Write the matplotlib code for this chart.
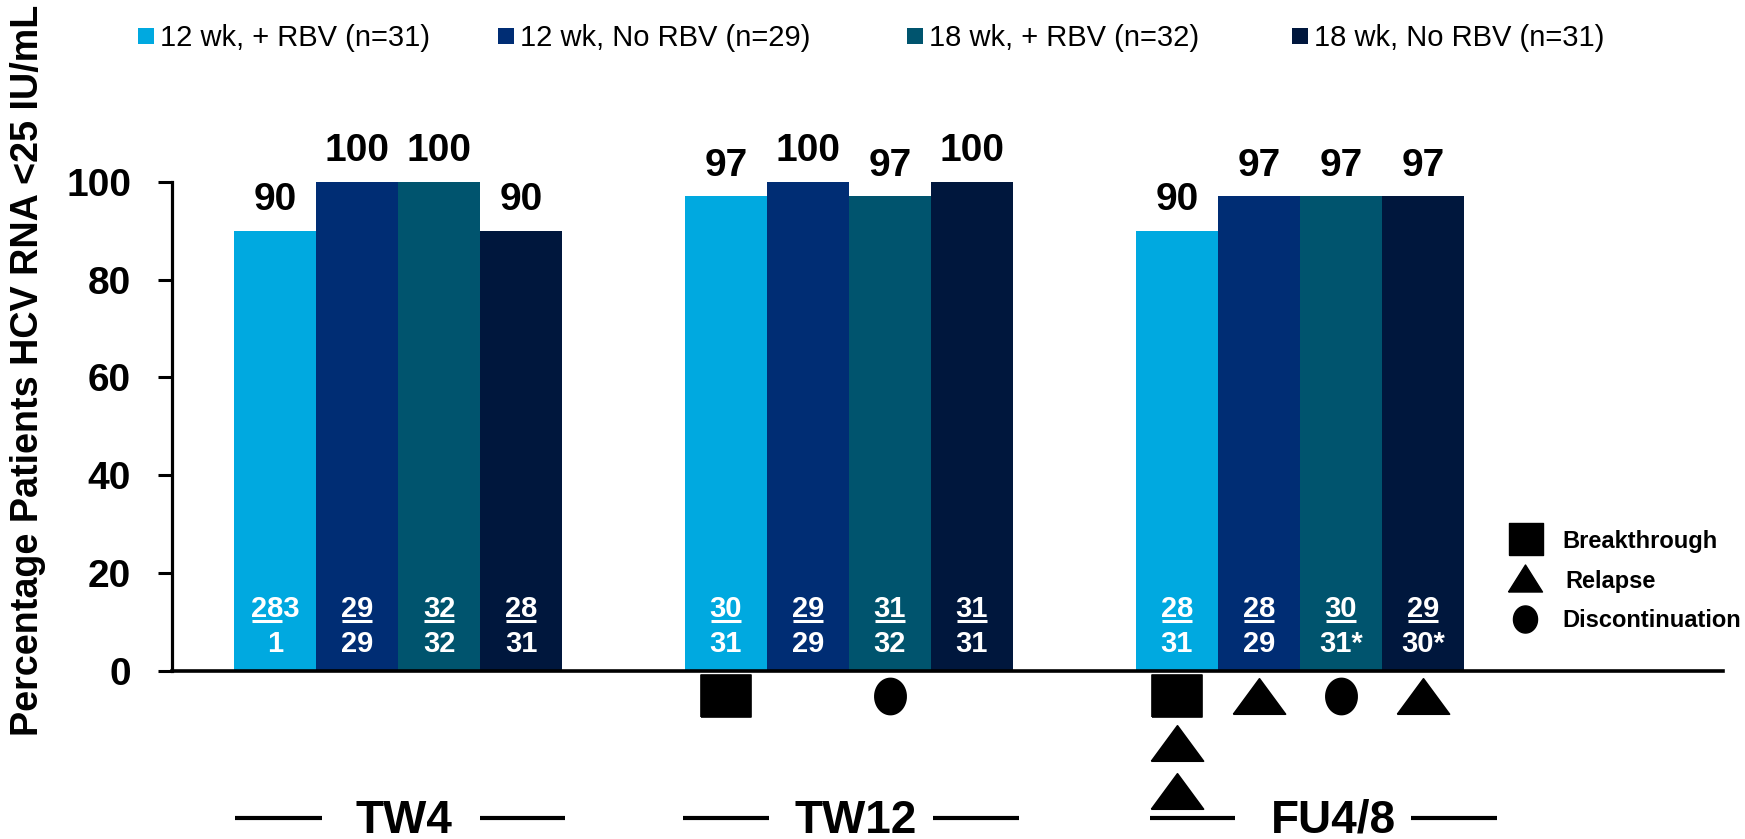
import matplotlib
matplotlib.use("Agg")
import matplotlib.pyplot as plt
from matplotlib.lines import Line2D
import numpy as np

plt.rcParams['font.family'] = ['Liberation Sans', 'DejaVu Sans']

# ---- data -----------------------------------------------------------------
series = ["12 wk, + RBV (n=31)", "12 wk, No RBV (n=29)",
          "18 wk, + RBV (n=32)", "18 wk, No RBV (n=31)"]
timepoints = ["TW4", "TW12", "FU4/8"]
pct = [[90, 100, 100, 90],
       [97, 100, 97, 100],
       [90, 97, 97, 97]]
responders = [["28", "29", "32", "28"],
              ["30", "29", "31", "31"],
              ["28", "28", "30", "29"]]
totals = [["1", "29", "32", "31"],
          ["31", "29", "32", "31"],
          ["31", "29", "31*", "30*"]]
# digit printed on the numerator line after the underlined count
carry_over = {(0, 0): "3"}
# virologic outcomes per (timepoint, arm), stacked downward below the axis
events = {(1, 0): ["B"], (1, 2): ["D"],
          (2, 0): ["B", "R", "R"], (2, 1): ["R"], (2, 2): ["D"], (2, 3): ["R"]}
event_names = [("B", "Breakthrough"), ("R", "Relapse"), ("D", "Discontinuation")]
yticks = [0, 20, 40, 60, 80, 100]
ylabel = "Percentage Patients HCV RNA <25 IU/mL"

# ---- style ----------------------------------------------------------------
colors = ["#00A9E0", "#002D74", "#00546E", "#00173D"]
W, H, DPI = 1745, 839, 100
GROUP_STEP = 5.5


def fx(px):
    return px / W


def fy(py):
    return 1 - py / H


def rect_verts(h):
    return [(-1, -h), (1, -h), (1, h), (-1, h), (-1, -h)]


def tri_verts(h):
    return [(-1, -h), (1, -h), (0, h), (-1, -h)]


def ell_verts(w):
    t = np.linspace(0, 2 * np.pi, 64)
    return list(zip(w * np.cos(t), np.sin(t)))


event_markers = {"B": (rect_verts(0.846), 36.5),
                 "R": (tri_verts(0.68), 37.5),
                 "D": (ell_verts(0.865), 26.0)}
legend_markers = {"B": (rect_verts(0.94), 24.5),
                  "R": (tri_verts(0.794), 24.5),
                  "D": (ell_verts(0.889), 19.5)}

fig = plt.figure(figsize=(W / DPI, H / DPI), dpi=DPI)
ax = fig.add_axes([fx(172), fy(671), fx(1723) - fx(172), fy(181.7) - fy(671)])
ax.set_xlim(-0.756, 18.16)
ax.set_ylim(0, 100)

# ---- bars -----------------------------------------------------------------
for g in range(len(timepoints)):
    for i in range(len(series)):
        x = g * GROUP_STEP + i + 0.5
        v = pct[g][i]
        ax.bar(x, v, width=1.0, color=colors[i], linewidth=0, zorder=2)
        ax.annotate(str(v), (x, v), xytext=(0, 15), textcoords="offset points",
                    ha="center", va="baseline", fontsize=28, fontweight="bold",
                    annotation_clip=False)

# ---- responder fractions inside the bars ----------------------------------
renderer = fig.canvas.get_renderer()
inv = ax.transData.inverted()
for g in range(len(timepoints)):
    for i in range(len(series)):
        x = g * GROUP_STEP + i + 0.5
        num = responders[g][i]
        tail = carry_over.get((g, i), "")
        t_num = ax.text(x, 11.03, num + tail, ha="center", va="baseline",
                        fontsize=21, fontweight="bold", color="white", zorder=4)
        ax.text(x, 3.88, totals[g][i], ha="center", va="baseline",
                fontsize=21, fontweight="bold", color="white", zorder=4)
        bb = t_num.get_window_extent(renderer=renderer)
        if tail:
            probe = ax.text(0, 0, num, fontsize=21, fontweight="bold")
            wnum = probe.get_window_extent(renderer=renderer).width
            probe.remove()
        else:
            wnum = bb.width
        x0 = inv.transform((bb.x0 + 1, 0))[0]
        x1 = inv.transform((bb.x0 + wnum - 1, 0))[0]
        ax.plot([x0, x1], [10.3, 10.3], color="white", lw=2.2,
                solid_capstyle="butt", zorder=4)

# ---- outcome markers below the axis ---------------------------------------
for (g, i), evs in events.items():
    x = g * GROUP_STEP + i + 0.5
    for k, e in enumerate(evs):
        verts, ms = event_markers[e]
        ax.plot([x], [-5.1 - 9.7 * k], linestyle="none", marker=verts,
                markersize=ms, color="black", mec="black", mew=1.2,
                clip_on=False, zorder=5)

# ---- timepoint labels with flanking rules ---------------------------------
label_layout = [  # (left rule, text centre, right rule) in bar units from group start
    ((0.01, 1.07), 2.07, (3.00, 4.04)),
    ((-0.02, 1.02), 2.08, (3.02, 4.07)),
    ((0.17, 1.21), 2.41, (3.35, 4.40)),
]
for g, name in enumerate(timepoints):
    gx = g * GROUP_STEP
    (la, lb), tc, (ra, rb) = label_layout[g]
    ax.plot([gx + la, gx + lb], [-30.0, -30.0], color="black", lw=3,
            solid_capstyle="butt", clip_on=False)
    ax.plot([gx + ra, gx + rb], [-30.0, -30.0], color="black", lw=3,
            solid_capstyle="butt", clip_on=False)
    ax.text(gx + tc, -33.1, name, ha="center", va="baseline", fontsize=33,
            fontweight="bold", clip_on=False)

# ---- axes styling ---------------------------------------------------------
for s in ["top", "right"]:
    ax.spines[s].set_visible(False)
ax.spines["left"].set_linewidth(2.3)
ax.spines["bottom"].set_linewidth(2.6)
ax.spines["bottom"].set_zorder(3)
ax.set_xticks([])
ax.set_yticks(yticks)
ax.tick_params(axis="y", length=10, width=2.2, pad=19.4, labelsize=28)
for lbl in ax.get_yticklabels():
    lbl.set_fontweight("bold")

fig.text(fx(28.5), fy(370), ylabel, rotation=90, ha="center", va="center",
         fontsize=27.2, fontweight="bold")

# ---- series legend (top) --------------------------------------------------
legend_x = [146, 506, 915, 1300]
for i, name in enumerate(series):
    fig.add_artist(Line2D([fx(legend_x[i])], [fy(36)], transform=fig.transFigure,
                          marker="s", markersize=12.2, linestyle="none",
                          color=colors[i], mew=0))
    fig.text(fx(legend_x[i] + 14), fy(45.5), name, ha="left", va="baseline",
             fontsize=21)

# ---- outcome legend (right) -----------------------------------------------
key_pos = [(1526, 539, 1562, 548), (1525, 578, 1565, 588), (1525, 619, 1562, 627)]
for (code, name), (mx, my, tx, ty) in zip(event_names, key_pos):
    verts, ms = legend_markers[code]
    fig.add_artist(Line2D([fx(mx)], [fy(my)], transform=fig.transFigure,
                          marker=verts, markersize=ms, linestyle="none",
                          color="black", mew=1))
    fig.text(fx(tx), fy(ty), name, ha="left", va="baseline", fontsize=17,
             fontweight="bold")

fig.savefig("out.png", dpi=DPI)
